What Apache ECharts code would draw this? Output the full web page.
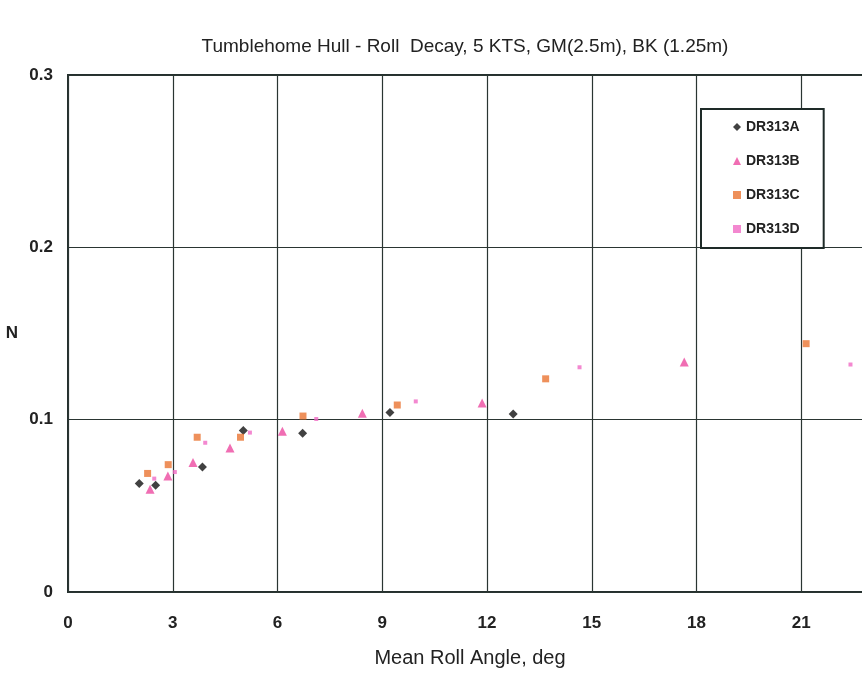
<!DOCTYPE html>
<html>
<head>
<meta charset="utf-8">
<script src="https://cdn.jsdelivr.net/npm/echarts@6/dist/echarts.min.js"></script>
<style>html,body{margin:0;padding:0;background:#fff;overflow:hidden;}#c{width:940px;height:673px;}</style>
</head>
<body>
<div id="c"></div>
<script>
var titleText = 'Tumblehome Hull - Roll  Decay, 5 KTS, GM(2.5m), BK (1.25m)';
var xAxisName = 'Mean Roll Angle, deg';
var yAxisName = 'N';
var seriesNames = ['DR313A', 'DR313B', 'DR313C', 'DR313D'];

var xA = [2.04, 2.51, 3.85, 5.02, 6.72, 9.22, 12.75];
var yA = [0.063, 0.062, 0.0725, 0.0937, 0.0921, 0.1041, 0.1033];
var xB = [2.35, 2.86, 3.58, 4.64, 6.14, 8.43, 11.86, 17.65];
var yB = [0.0596, 0.0673, 0.0752, 0.0835, 0.0933, 0.1037, 0.1096, 0.1335];
var xC = [2.28, 2.87, 3.70, 4.94, 6.73, 9.43, 13.68, 21.14];
var yC = [0.0688, 0.0739, 0.0898, 0.0898, 0.1021, 0.1085, 0.1237, 0.1441];
var xD = [2.47, 3.06, 3.93, 5.21, 7.11, 9.96, 14.65, 22.41];
var yD = [0.0658, 0.0696, 0.0866, 0.0925, 0.1004, 0.1106, 0.1304, 0.132];

function pairs(xs, ys) { return xs.map(function (x, i) { return [x, ys[i]]; }); }

var chart = echarts.init(document.getElementById('c'), null, {renderer: 'canvas'});
var font = 'Arial, "Liberation Sans", sans-serif';
var gridColor = '#2a3532';
chart.setOption({
  animation: false,
  backgroundColor: '#ffffff',
  title: {
    text: titleText, left: 460, top: 32, textAlign: 'center',
    textStyle: {fontFamily: font, fontSize: 19, fontWeight: 'normal', color: '#222'}
  },
  grid: {
    left: 68, top: 75, width: 838, height: 520,
    show: true, borderColor: '#25302e', borderWidth: 2, backgroundColor: '#fff'
  },
  xAxis: {
    type: 'value', min: 0, max: 24, interval: 3,
    name: xAxisName, nameLocation: 'middle', nameGap: 56,
    nameTextStyle: {fontFamily: font, fontSize: 20, fontWeight: 'normal', color: '#222', padding: [0, 34, 0, 0]},
    axisLine: {show: false}, axisTick: {show: false},
    axisLabel: {margin: 23, fontFamily: font, fontSize: 17, fontWeight: 'bold', color: '#222'},
    splitLine: {show: true, lineStyle: {color: gridColor, width: 1.2}}
  },
  yAxis: {
    type: 'value', min: 0, max: 0.3, interval: 0.1,
    name: yAxisName, nameLocation: 'middle', nameGap: 50, nameRotate: 0,
    nameTextStyle: {fontFamily: font, fontSize: 17, fontWeight: 'bold', color: '#222'},
    axisLine: {show: false}, axisTick: {show: false},
    axisLabel: {margin: 15, fontFamily: font, fontSize: 17, fontWeight: 'bold', color: '#222'},
    splitLine: {show: true, lineStyle: {color: gridColor, width: 1.2}}
  },
  legend: {
    orient: 'vertical', left: 701, top: 109,
    backgroundColor: '#fff', borderColor: '#1e2a28', borderWidth: 2,
    padding: [11, 24, 12, 32], itemGap: 20, itemWidth: 8, itemHeight: 8,
    textStyle: {fontFamily: font, fontSize: 14, fontWeight: 'bold', color: '#222'},
    data: seriesNames
  },
  series: [
    {name: seriesNames[0], type: 'scatter', symbol: 'diamond', symbolSize: 9,
     itemStyle: {color: '#111111'}, data: pairs(xA, yA)},
    {name: seriesNames[1], type: 'scatter', symbol: 'triangle', symbolSize: 9,
     itemStyle: {color: '#ec4aa0'}, data: pairs(xB, yB)},
    {name: seriesNames[2], type: 'scatter', symbol: 'rect', symbolSize: 7,
     itemStyle: {color: '#ea7432'}, data: pairs(xC, yC)},
    {name: seriesNames[3], type: 'scatter', symbol: 'rect', symbolSize: 4,
     itemStyle: {color: '#f06ac4'}, data: pairs(xD, yD)}
  ]
});
</script>
</body>
</html>
